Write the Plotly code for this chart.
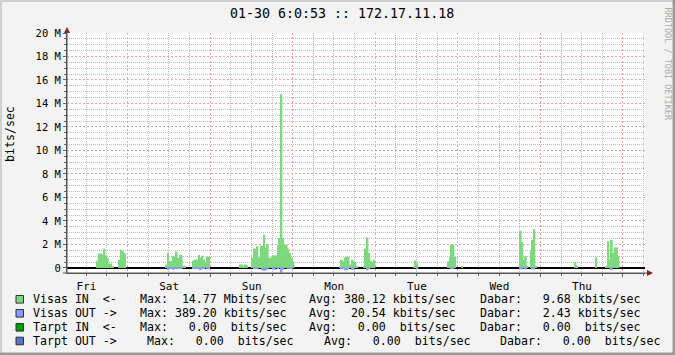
import plotly.graph_objects as go

# ---------------- data (hours since Fri 00:00, 30-min bins; Mbit/s) ----------------
visas_in_hour = [15.0, 15.5, 16.0, 16.5, 17.0, 17.5, 18.0, 18.5, 19.0, 19.5, 21.5, 22.0, 22.5, 23.0,
                 35.0, 35.5, 36.0, 36.5, 37.0, 37.5, 38.0, 38.5, 39.0, 39.5, 40.0, 40.5,
                 43.0, 43.5, 44.0, 44.5, 45.0, 45.5, 46.0, 46.5, 47.0, 47.5,
                 56.5, 57.0, 57.5, 58.0, 58.5,
                 60.0, 60.5, 61.0, 61.5, 62.0, 62.5, 63.0, 63.5, 64.0, 64.5, 65.0, 65.5, 66.0, 66.5,
                 67.0, 67.5, 68.0, 68.5, 69.0, 69.5, 70.0, 70.5, 71.0, 71.5, 72.0,
                 85.5, 86.0, 86.5, 87.0, 87.5, 88.0, 88.5, 89.0, 89.5, 90.0, 90.5,
                 92.5, 93.0, 93.5, 94.0, 94.5, 95.0, 95.5,
                 107.0, 107.5, 108.0, 117.0, 117.5, 118.0, 118.5, 119.0, 121.0,
                 138.0, 138.5, 139.0, 139.5, 140.0, 141.0, 141.5, 142.0, 142.5,
                 154.0, 154.5, 160.0, 163.0, 163.5, 164.0, 164.5, 165.0, 165.5, 166.0, 166.5]
visas_in_mbps = [0.62, 1.22, 1.22, 1.15, 1.64, 1.05, 0.85, 0.37, 0.37, 0.10, 0.70, 1.56, 1.40, 1.26,
                 0.28, 1.30, 0.60, 0.60, 1.00, 1.00, 1.40, 0.85, 1.10, 1.10, 0.20, 0.10,
                 0.62, 0.70, 0.70, 1.10, 0.90, 1.05, 0.70, 0.45, 0.95, 0.95,
                 0.30, 0.30, 0.15, 0.30, 0.25,
                 0.85, 1.64, 1.64, 1.84, 0.90, 1.90, 1.90, 2.83, 1.70, 2.04, 0.85, 0.90, 0.99, 1.07,
                 1.07, 1.93, 2.55, 14.77, 2.55, 1.98, 1.98, 1.64, 1.28, 0.85, 0.56,
                 0.10, 0.70, 0.60, 0.90, 0.95, 0.95, 0.30, 0.70, 0.60, 0.50, 0.15,
                 0.10, 1.64, 2.60, 1.28, 0.62, 0.50, 0.70,
                 0.15, 0.62, 0.40, 0.56, 0.90, 1.98, 1.98, 0.93, 0.10,
                 3.17, 2.20, 0.70, 1.00, 0.10, 1.50, 2.40, 3.30, 0.10,
                 0.50, 0.10, 0.90, 0.10, 2.27, 0.70, 2.40, 1.30, 1.75, 1.75, 1.00]

visas_out_hour = [35.5, 36.0, 36.5, 37.0, 37.5, 38.0, 38.5, 39.0, 39.5,
                  43.0, 43.5, 44.0, 44.5, 45.0, 45.5, 46.0, 47.0, 47.5,
                  60.5, 61.0, 61.5, 63.0, 63.5, 64.0, 64.5, 66.0, 66.5, 67.5, 68.5, 69.0, 70.5, 71.0, 71.5,
                  86.0, 86.5, 87.0, 87.5, 88.0, 89.0, 89.5, 93.5, 94.0,
                  108.0, 118.0, 118.5, 138.0, 138.5, 139.5, 141.5, 142.0, 164.5]
visas_out_mbps = [0.20, 0.10, 0.10, 0.15, 0.10, 0.10, 0.10, 0.10, 0.10,
                  0.05, 0.10, 0.10, 0.10, 0.20, 0.10, 0.10, 0.10, 0.10,
                  0.10, 0.10, 0.10, 0.20, 0.25, 0.20, 0.10, 0.08, 0.15, 0.10, 0.39, 0.15, 0.10, 0.10, 0.10,
                  0.10, 0.10, 0.20, 0.20, 0.10, 0.15, 0.15, 0.20, 0.10,
                  0.05, 0.10, 0.10, 0.12, 0.12, 0.12, 0.12, 0.12, 0.20]

day_labels = ["Fri", "Sat", "Sun", "Mon", "Tue", "Wed", "Thu"]
day_midnights = [24, 48, 72, 96, 120, 144, 168]
y_tick_vals = [0, 2, 4, 6, 8, 10, 12, 14, 16, 18, 20]
y_tick_text = ["0", "2 M", "4 M", "6 M", "8 M", "10 M", "12 M", "14 M", "16 M", "18 M", "20 M"]

series_names = ["Visas IN  <-", "Visas OUT ->", "Tarpt IN  <-", "Tarpt OUT ->"]
series_colors = ["#7ED87E", "#8A99FF", "#00A000", "#5573C8"]
series_max = ["Max:  14.77 Mbits/sec", "Max: 389.20 kbits/sec", "Max:   0.00  bits/sec", "Max:   0.00  bits/sec"]
series_avg = ["Avg: 380.12 kbits/sec", "Avg:  20.54 kbits/sec", "Avg:   0.00  bits/sec", "Avg:   0.00  bits/sec"]
series_cur = ["Dabar:   9.68 kbits/sec", "Dabar:   2.43 kbits/sec", "Dabar:   0.00  bits/sec", "Dabar:   0.00  bits/sec"]

title_text = "01-30 6:0:53 :: 172.17.11.18"

# ---------------- figure ----------------
W, H = 675, 355
L, R, T, B = 67, 30, 33, 82
PW, PH = W - L - R, H - T - B
MONO = "DejaVu Sans Mono"
RED_GRID = "#E8A4A4"
GRAY_GRID = "#BDBDBD"

def px(x):
    return (x - L) / PW

def py(y):
    return (H - B - y) / PH

fig = go.Figure()
fig.add_trace(go.Bar(x=[h + 0.25 for h in visas_in_hour], y=[v * 1e6 for v in visas_in_mbps],
                     width=0.5, marker=dict(color=series_colors[0], line=dict(width=0)),
                     name=series_names[0], hoverinfo="skip"))
fig.add_trace(go.Bar(x=[h + 0.25 for h in visas_out_hour], y=[-v * 1e6 for v in visas_out_mbps],
                     width=0.5, marker=dict(color=series_colors[1], line=dict(width=0)),
                     name=series_names[1], hoverinfo="skip"))

minor_x = [h for h in range(6, 175, 6) if h % 24 != 0]
minor_y = [v * 0.5e6 for v in range(1, 41) if v % 4 != 0]

fig.update_layout(
    width=W, height=H,
    margin=dict(l=L, r=R, t=T, b=B, pad=0),
    paper_bgcolor="#F3F3F3", plot_bgcolor="#FFFFFF",
    showlegend=False, barmode="overlay",
    font=dict(family=MONO, size=11, color="#000000"),
    xaxis=dict(range=[6.4, 174.4], tickmode="array", tickvals=day_midnights, ticktext=day_labels,
               ticklabelshift=-41, showgrid=True, gridcolor=RED_GRID, griddash="2px,2px", gridwidth=1,
               ticks="outside", ticklen=3, tickcolor="#666666",
               showline=True, linecolor="#555555", linewidth=1, zeroline=False,
               tickfont=dict(family=MONO, size=11),
               minor=dict(tickmode="array", tickvals=minor_x, showgrid=True, gridcolor=GRAY_GRID,
                          griddash="1px,1px", ticks="outside", ticklen=2, tickcolor="#666666")),
    yaxis=dict(range=[-0.43e6, 20e6], tickmode="array", tickvals=[v * 1e6 for v in y_tick_vals],
               ticktext=y_tick_text, showgrid=True, gridcolor=RED_GRID, griddash="2px,2px",
               ticks="outside", ticklen=3, tickcolor="#666666",
               showline=True, linecolor="#555555", linewidth=1,
               zeroline=True, zerolinecolor="#000000", zerolinewidth=1.5,
               tickfont=dict(family=MONO, size=10.5),
               minor=dict(tickmode="array", tickvals=minor_y, showgrid=True, gridcolor=GRAY_GRID,
                          griddash="1px,1px", ticks="outside", ticklen=2, tickcolor="#666666")),
)

shapes = []
# axis arrow heads
shapes.append(dict(type="path", xref="paper", yref="paper", layer="above",
                   path=f"M {px(64)} {py(33)} L {px(70)} {py(33)} L {px(67)} {py(27)} Z",
                   fillcolor="#8B1A1A", line=dict(width=0)))
shapes.append(dict(type="line", xref="paper", yref="paper", x0=px(67), x1=px(67), y0=py(273), y1=py(30),
                   line=dict(color="#555555", width=1)))
shapes.append(dict(type="line", xref="paper", yref="paper", x0=px(63), x1=px(649), y0=py(273), y1=py(273),
                   line=dict(color="#555555", width=1)))
shapes.append(dict(type="path", xref="paper", yref="paper", layer="above",
                   path=f"M {px(647)} {py(270)} L {px(647)} {py(276)} L {px(653)} {py(273)} Z",
                   fillcolor="#8B1A1A", line=dict(width=0)))
# frame
shapes.append(dict(type="line", xref="paper", yref="paper", x0=px(0), x1=px(675), y0=py(1), y1=py(1),
                   line=dict(color="#D0D0D0", width=2)))
shapes.append(dict(type="line", xref="paper", yref="paper", x0=px(1), x1=px(1), y0=py(0), y1=py(355),
                   line=dict(color="#D0D0D0", width=2)))
shapes.append(dict(type="line", xref="paper", yref="paper", x0=px(673.8), x1=px(673.8), y0=py(0), y1=py(355),
                   line=dict(color="#9A9A9A", width=2.5)))
shapes.append(dict(type="line", xref="paper", yref="paper", x0=px(0), x1=px(675), y0=py(353.8), y1=py(353.8),
                   line=dict(color="#9A9A9A", width=2.5)))

annotations = []
annotations.append(dict(text=title_text, xref="paper", yref="paper", x=px(341.5), y=py(13),
                        xanchor="center", yanchor="middle", showarrow=False,
                        font=dict(family=MONO, size=13.3, color="#000000")))
annotations.append(dict(text="bits/sec", xref="paper", yref="paper", x=px(10), y=py(134),
                        xanchor="center", yanchor="middle", textangle=-90, showarrow=False,
                        font=dict(family=MONO, size=11.6, color="#000000")))
annotations.append(dict(text="RRDTOOL / TOBI OETIKER", xref="paper", yref="paper", x=px(667), y=py(5),
                        xanchor="center", yanchor="top", textangle=90, showarrow=False,
                        font=dict(family=MONO, size=8.5, color="#ABABAB")))

row_y = [299.3, 313.3, 327.3, 341.0]
max_x = [137.7, 137.7, 137.7, 145.0]
avg_x = [307.3, 307.3, 307.3, 321.7]
cur_x = [477.7, 477.7, 477.7, 498.3]
NB = "\u00a0"
for i in range(4):
    yc = row_y[i]
    shapes.append(dict(type="rect", xref="paper", yref="paper", x0=px(16), x1=px(23.5),
                       y0=py(yc + 3.8), y1=py(yc - 3.8), fillcolor=series_colors[i],
                       line=dict(color="#333333", width=1)))
    for txt, xx in [(series_names[i], 31), (series_max[i], max_x[i]),
                    (series_avg[i], avg_x[i]), (series_cur[i], cur_x[i])]:
        annotations.append(dict(text=txt.replace(" ", NB), xref="paper", yref="paper",
                                x=px(xx), y=py(yc), xanchor="left", yanchor="middle",
                                showarrow=False, font=dict(family=MONO, size=11.6, color="#000000")))

fig.update_layout(shapes=shapes, annotations=annotations)
fig.write_html("out.html")
